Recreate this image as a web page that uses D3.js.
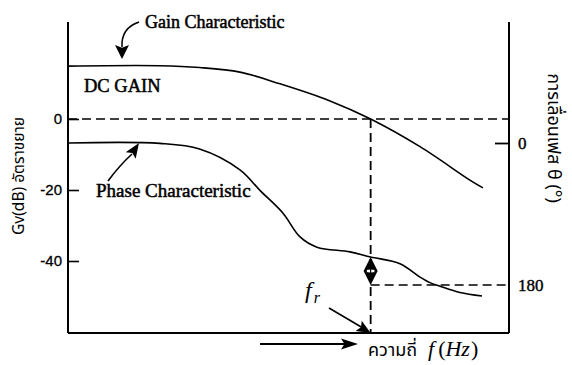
<!DOCTYPE html>
<html>
<head>
<meta charset="utf-8">
<script src="https://cdn.jsdelivr.net/npm/d3@7"></script>
<style>
  html, body { margin: 0; padding: 0; background: #fff; }
  svg { display: block; }
  .serif { font-family: "Liberation Serif", "Times New Roman", serif; }
  .sans { font-family: "Liberation Sans", Arial, sans-serif; }
  .thai { font-family: "Noto Sans Thai", "Noto Sans", "DejaVu Sans", sans-serif; }
</style>
</head>
<body>
<svg id="chart" width="572" height="365"></svg>
<script>
// Gain response (dB) against frequency (Hz, log axis)
const gainFreq = [1, 11, 31, 89, 253, 935, 2700, 9800, 36000, 50700];
const gainDb   = [14.9, 15.0, 14.5, 13.2, 9.9, 5.1, 0, -7.8, -17.2, -19.4];

// Phase lag (degrees) against frequency
const phaseFreq = [1, 11, 31, 89, 150, 274, 427, 665, 1575, 2700, 5810, 9800, 12700, 16500, 27800, 49400];
const phaseDeg  = [0, 0.5, 7.6, 34, 60, 89, 119, 132, 138, 144.5, 153, 170, 177, 181.5, 189.5, 194];

// Axis tick labels
const gainTicks  = [0, -20, -40];
const phaseTicks = [0, 180];

// Unity-gain frequency and phase at that point
const fr = 2700;
const phaseAtFr = 144.5;
const phaseRef = 180;

const svg = d3.select("#chart");
const plotLeft = 68, plotRight = 509, plotTop = 22, plotBottom = 333;

const x = d3.scaleLog().domain([1, 1e5]).range([plotLeft, plotRight]);
const yGain = d3.scaleLinear().domain([-40, 0]).range([261, 119]);
const yPhase = d3.scaleLinear().domain([0, 180]).range([143, 285]);

const dash = "9,5";

// frame: left, right and bottom axis lines
svg.append("line").attr("x1", plotLeft).attr("x2", plotLeft).attr("y1", plotTop).attr("y2", plotBottom)
  .attr("stroke", "#000").attr("stroke-width", 2);
svg.append("line").attr("x1", plotRight).attr("x2", plotRight).attr("y1", plotTop).attr("y2", plotBottom)
  .attr("stroke", "#000").attr("stroke-width", 2);
svg.append("line").attr("x1", plotLeft).attr("x2", plotRight).attr("y1", plotBottom).attr("y2", plotBottom)
  .attr("stroke", "#000").attr("stroke-width", 2);

// left gain axis
const gAxis = svg.append("g").attr("transform", `translate(${plotLeft},0)`)
  .call(d3.axisLeft(yGain).tickValues(gainTicks).tickSize(-11).tickPadding(6)
    .tickFormat(d => String(d)));
gAxis.select(".domain").remove();
gAxis.selectAll(".tick line").attr("stroke", "#000").attr("stroke-width", 1.6);
gAxis.selectAll(".tick text").attr("class", "sans").attr("font-size", 15)
  .attr("fill", "#000").attr("stroke", "#000").attr("stroke-width", 0.3);

// right phase axis
const pAxis = svg.append("g").attr("transform", `translate(${plotRight},0)`)
  .call(d3.axisRight(yPhase).tickValues(phaseTicks).tickSize(-14).tickPadding(9)
    .tickFormat(d => String(d)));
pAxis.select(".domain").remove();
pAxis.selectAll(".tick line").attr("stroke", "#000").attr("stroke-width", 1.8)
  .filter(d => d !== 0).remove();
pAxis.selectAll(".tick text").attr("class", "serif").attr("font-size", 17)
  .attr("fill", "#000").attr("stroke", "#000").attr("stroke-width", 0.4);

// dashed guides: 0 dB, unity-gain frequency, 180 degree reference
svg.append("line").attr("x1", plotLeft).attr("x2", plotRight).attr("y1", yGain(0)).attr("y2", yGain(0))
  .attr("stroke", "#000").attr("stroke-width", 1.5).attr("stroke-dasharray", dash);
svg.append("line").attr("x1", x(fr)).attr("x2", x(fr)).attr("y1", yGain(0)).attr("y2", plotBottom)
  .attr("stroke", "#000").attr("stroke-width", 1.8).attr("stroke-dasharray", dash);
svg.append("line").attr("x1", x(fr)).attr("x2", plotRight).attr("y1", yPhase(phaseRef)).attr("y2", yPhase(phaseRef))
  .attr("stroke", "#000").attr("stroke-width", 1.5).attr("stroke-dasharray", dash);

// response curves
const gainLine = d3.line().x((d, i) => x(gainFreq[i])).y(d => yGain(d)).curve(d3.curveCatmullRom.alpha(0.5));
const phaseLine = d3.line().x((d, i) => x(phaseFreq[i])).y(d => yPhase(d)).curve(d3.curveCatmullRom.alpha(0.5));

svg.append("path").attr("d", gainLine(gainDb))
  .attr("fill", "none").attr("stroke", "#000").attr("stroke-width", 1.6);
svg.append("path").attr("d", phaseLine(phaseDeg))
  .attr("fill", "none").attr("stroke", "#000").attr("stroke-width", 1.6);

// phase-margin marker between the curve and the 180 degree line
const mx = x(fr), mTop = yPhase(phaseAtFr), mBot = yPhase(phaseRef);
const mMid = (mTop + mBot) / 2;
svg.append("path")
  .attr("d", `M${mx},${mTop} L${mx + 7},${mMid} L${mx},${mBot} L${mx - 7},${mMid} Z`)
  .attr("fill", "#000");
svg.append("ellipse").attr("cx", mx).attr("cy", mMid).attr("rx", 4.5).attr("ry", 2)
  .attr("fill", "#fff").attr("stroke", "#000").attr("stroke-width", 0.8);
svg.append("line").attr("x1", mx).attr("x2", mx).attr("y1", mMid - 2).attr("y2", mMid + 2)
  .attr("stroke", "#000").attr("stroke-width", 1.2);

// arrow helper: filled head at tip, pointing away from (fx, fy)
function head(tx, ty, fx, fy, len, hw) {
  const dx = tx - fx, dy = ty - fy, n = Math.hypot(dx, dy);
  const ux = dx / n, uy = dy / n;
  const bx = tx - ux * len, by = ty - uy * len;
  svg.append("path")
    .attr("d", `M${tx},${ty} L${bx - uy * hw},${by + ux * hw} L${bx + ux * len * 0.2},${by + uy * len * 0.2} L${bx + uy * hw},${by - ux * hw} Z`)
    .attr("fill", "#000");
}
function stroke(d, w) {
  svg.append("path").attr("d", d).attr("fill", "none").attr("stroke", "#000").attr("stroke-width", w || 1.6);
}

// "Gain Characteristic" pointer
stroke("M139,22 Q121,28 122,47");
head(122, 59, 122, 46, 14, 7);

// "Phase Characteristic" pointer
stroke("M108,181 Q119,166 132,154");
head(139, 143, 131, 155, 15, 6);

// f_r pointer onto the frequency axis
stroke(`M329,308 L${mx - 6},${plotBottom - 4}`);
head(mx, plotBottom, 329, 308, 14, 6);

// frequency direction arrow
stroke("M260,344 L350,344", 1.8);
head(358, 344, 260, 344, 17, 5.5);

// text labels
const t = (txt, xx, yy, cls, size, extra) => {
  const el = svg.append("text").attr("x", xx).attr("y", yy).attr("class", cls)
    .attr("font-size", size).attr("fill", "#000").text(txt);
  if (extra) extra(el);
  return el;
};
const bolden = el => el.attr("stroke", "#000").attr("stroke-width", 0.5);

t("Gain Characteristic", 145, 28, "serif", 18, bolden);
t("DC GAIN", 84, 92, "serif", 18.5, bolden);
t("Phase Characteristic", 96, 197, "serif", 19, bolden);

// f_r
const frLabel = svg.append("text").attr("x", 305).attr("y", 298).attr("class", "serif")
  .attr("fill", "#000");
frLabel.append("tspan").attr("font-size", 24).attr("font-style", "italic").text("f");
frLabel.append("tspan").attr("font-size", 16).attr("font-style", "italic").attr("dy", 5).attr("dx", 2).text("r");

// frequency axis caption
t("ความถี่", 368, 356, "thai", 18);
const fLabel = svg.append("text").attr("x", 428).attr("y", 356).attr("class", "serif")
  .attr("font-size", 22).attr("fill", "#000");
fLabel.append("tspan").attr("font-style", "italic").text("f");
fLabel.append("tspan").attr("dx", 4).text("(");
fLabel.append("tspan").attr("font-style", "italic").text("Hz");
fLabel.append("tspan").attr("dx", 1).text(")");

// rotated axis titles
svg.append("text").attr("class", "thai").attr("font-size", 15.5).attr("fill", "#000")
  .attr("text-anchor", "middle")
  .attr("transform", "translate(24,176) rotate(-90)")
  .text("Gv(dB) อัตราขยาย");
svg.append("text").attr("class", "thai").attr("font-size", 18).attr("fill", "#000")
  .attr("text-anchor", "middle")
  .attr("transform", "translate(548,138) rotate(90)")
  .text("การเลื่อนเฟส θ (°)");
</script>
</body>
</html>
